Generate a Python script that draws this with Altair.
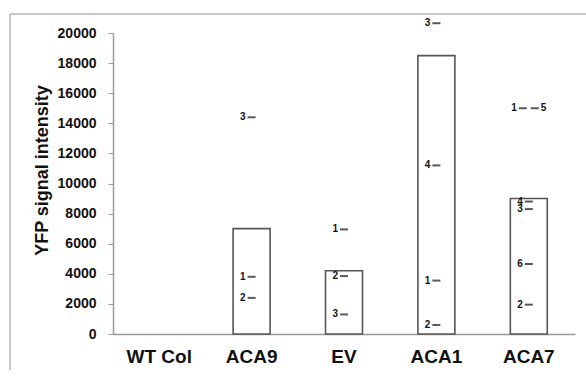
import altair as alt
import pandas as pd

# Bar (mean) values
categories = ["WT Col", "ACA9", "EV", "ACA1", "ACA7"]
bar_values = [0, 7000, 4200, 18500, 9000]

# Individual replicate points
point_groups = ["ACA9", "ACA9", "ACA9",
                "EV", "EV", "EV",
                "ACA1", "ACA1", "ACA1", "ACA1",
                "ACA7", "ACA7", "ACA7", "ACA7", "ACA7", "ACA7"]
point_labels = ["3", "1", "2",
                "1", "2", "3",
                "3", "4", "1", "2",
                "1", "5", "4", "3", "6", "2"]
point_values = [14400, 3800, 2400,
                6950, 3850, 1300,
                20650, 11200, 3550, 600,
                15000, 15000, 8800, 8300, 4650, 1950]
y_ticks = [0, 2000, 4000, 6000, 8000, 10000, 12000, 14000, 16000, 18000, 20000]

bars = pd.DataFrame({"cat": categories, "val": bar_values})
pts = pd.DataFrame({"cat": point_groups, "lab": point_labels, "val": point_values})
# the two coincident ACA7 points (1 and 5) are drawn side by side
pts["pair"] = "none"
pts.loc[(pts.cat == "ACA7") & (pts.lab == "1"), "pair"] = "left"
pts.loc[(pts.cat == "ACA7") & (pts.lab == "5"), "pair"] = "right"

xscale = alt.Scale(domain=categories, paddingInner=0.6, paddingOuter=0.3)
yscale = alt.Scale(domain=[0, 20000], nice=False)

xaxis = alt.Axis(title=None, labelAngle=0, labelFontSize=19,
                 labelFontWeight="bold", labelFont="Liberation Sans",
                 labelColor="#111", labelPadding=13, ticks=False,
                 domainColor="#9a9a9a", domainWidth=1.5)
yaxis = alt.Axis(title="YFP signal intensity", values=y_ticks,
                 format="d", labelOverlap=False,
                 grid=False, labelFontSize=14, labelFontWeight="bold",
                 labelFont="Liberation Sans", labelColor="#111",
                 labelPadding=12, tickSize=5, tickColor="#9a9a9a",
                 domainColor="#9a9a9a", domainWidth=1.5,
                 titleFontSize=18, titleFontWeight="bold",
                 titleFont="Liberation Sans", titleColor="#111",
                 titleX=-71, titleY=137, titleBaseline="middle")

X = alt.X("cat:N", scale=xscale, sort=categories, axis=xaxis)
Y = alt.Y("val:Q", scale=yscale, axis=yaxis)

bar_layer = alt.Chart(bars).transform_filter("datum.val > 0").mark_bar(
    fill="white", stroke="#555", strokeWidth=1.6).encode(x=X, y=Y)

base = alt.Chart(pts).encode(x=X, y=Y)

def dash_and_label(filter_expr, x_off, label_align, label_dx):
    sub = base.transform_filter(filter_expr)
    dash = sub.mark_tick(orient="horizontal", size=8, thickness=2, color="#111",
                         xOffset=x_off)
    txt = sub.mark_text(align=label_align, baseline="middle", dx=label_dx + x_off,
                        fontSize=10, fontWeight="bold", font="Liberation Sans",
                        color="#111").encode(text="lab:N")
    return dash + txt

normal = dash_and_label("datum.pair == 'none'", 0, "right", -6)
left = dash_and_label("datum.pair == 'left'", -6, "right", -6)
right = dash_and_label("datum.pair == 'right'", 6, "left", 6)

# outer frame of the figure (decorative)
frame_df = pd.DataFrame({"k": [0]})
frame_top = alt.Chart(frame_df).mark_rule(color="#b5b5b5", strokeWidth=1.5).encode(
    x=alt.value(-103), x2=alt.value(473), y=alt.value(-19))
frame_left = alt.Chart(frame_df).mark_rule(color="#b5b5b5", strokeWidth=1.5).encode(
    x=alt.value(-103), y=alt.value(-19), y2=alt.value(343))

chart = alt.layer(bar_layer, normal, left, right, frame_top, frame_left).properties(
    width=462, height=301,
    background="white",
    autosize=alt.AutoSizeParams(type="none"),
    padding={"left": 113, "top": 33, "right": 11, "bottom": 36},
).configure_view(stroke="transparent", strokeWidth=0)

chart.save("out.html", embed_options={"renderer": "svg", "actions": False})
